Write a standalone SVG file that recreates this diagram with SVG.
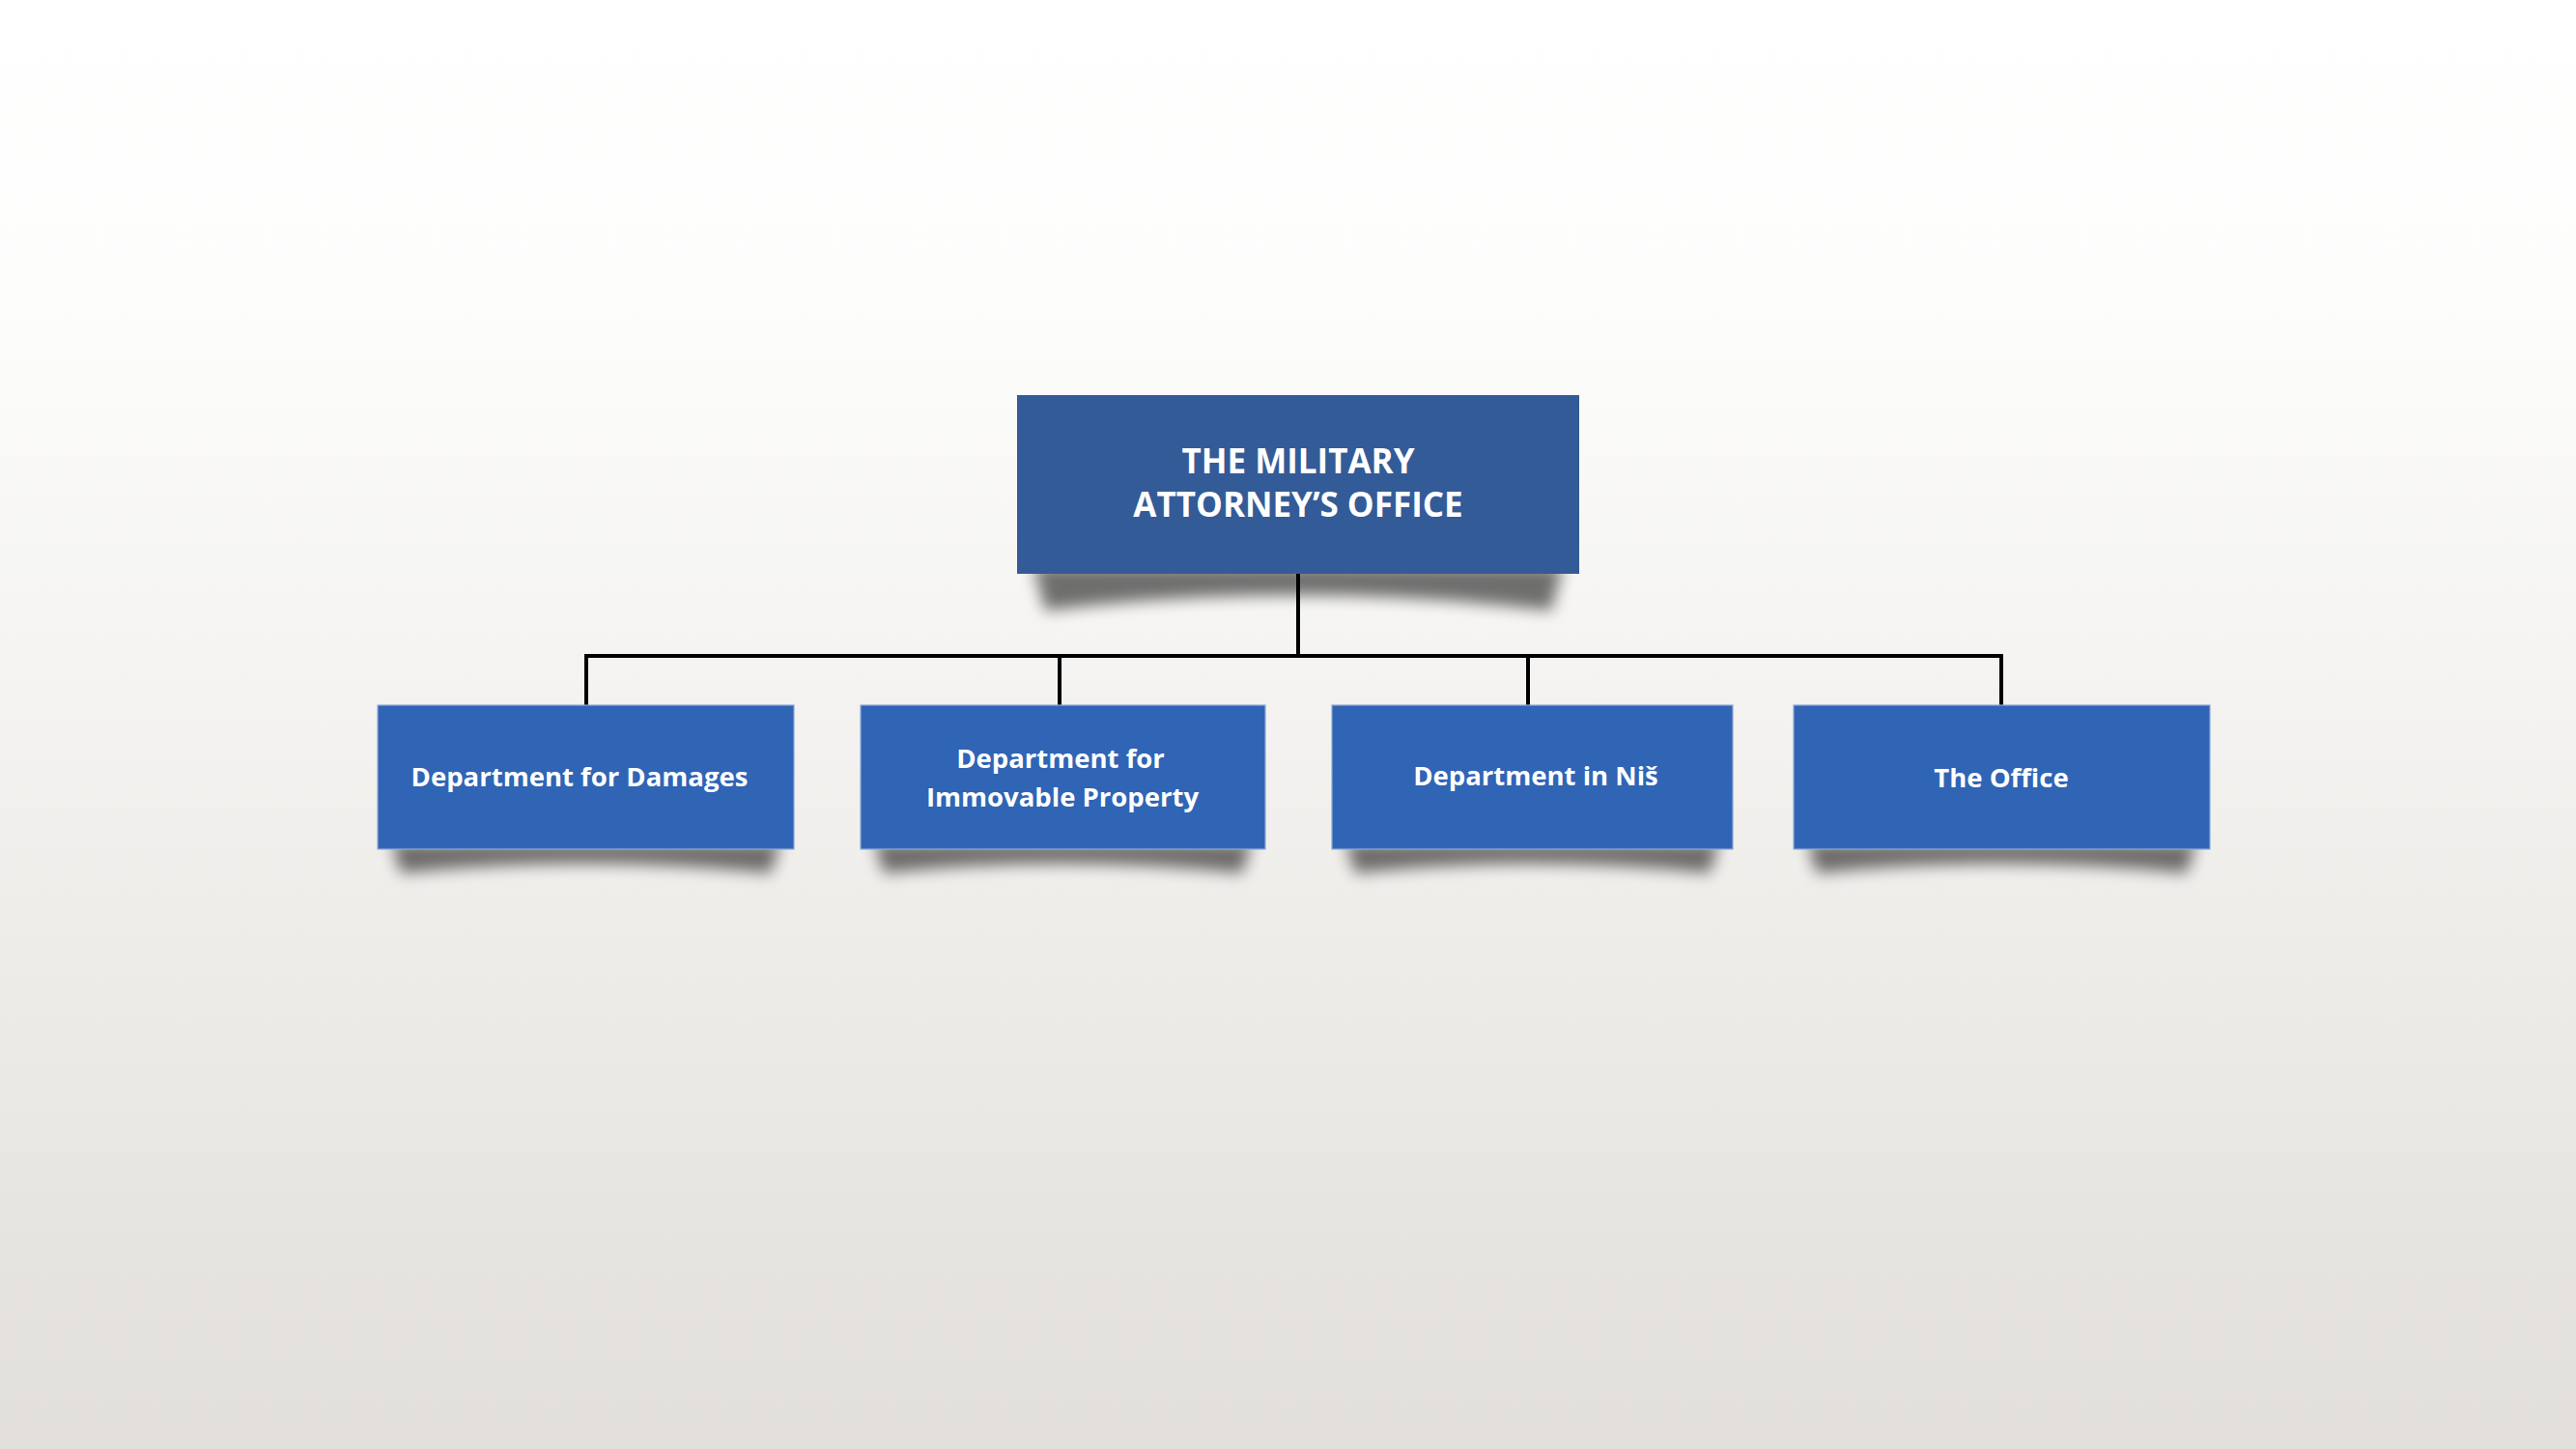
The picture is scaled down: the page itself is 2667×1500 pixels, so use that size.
<svg xmlns="http://www.w3.org/2000/svg" width="2667" height="1500" viewBox="0 0 2667 1500">
<defs>
<linearGradient id="bg" x1="0" y1="0" x2="0" y2="1">
<stop offset="0" stop-color="#FFFFFF"/>
<stop offset="0.2" stop-color="#FDFDFC"/>
<stop offset="0.45" stop-color="#F5F4F2"/>
<stop offset="1" stop-color="#E2DFDA"/>
</linearGradient>
<filter id="blur" x="-10%" y="-80%" width="120%" height="260%">
<feGaussianBlur stdDeviation="8"/>
</filter>
</defs>
<style>
.top{fill:#335B97;}
.child{fill:#3064B5;stroke:#8DA8D6;stroke-width:1.2;}
.sh{fill:#000;opacity:0.55;filter:url(#blur);}
.t1{font-family:"Open Sans","Liberation Sans",sans-serif;font-weight:700;font-size:35px;fill:#FFFFFF;text-anchor:middle;}
.t2{font-family:"Open Sans","Liberation Sans",sans-serif;font-weight:700;font-size:27.5px;fill:#FFFFFF;text-anchor:middle;}
.conn{fill:none;stroke:#000;stroke-width:4;}
</style>
<rect x="0" y="0" width="2667" height="1500" fill="url(#bg)"/>
<g id="connectors">
<path class="conn" d="M1344,594 V679"/>
<path class="conn" d="M607,730 V679 H2072 V730"/>
<path class="conn" d="M1097,679 V730"/>
<path class="conn" d="M1582,679 V730"/>
</g>
<g id="node-top">
<path class="sh" d="M1070,586 H1618 L1606,632 Q1344,600 1082,632 Z"/>
<rect class="top" x="1053" y="409" width="582" height="185"/>
<text class="t1" x="1344" y="490">THE MILITARY</text>
<text class="t1" x="1344" y="535">ATTORNEY’S OFFICE</text>
</g>
<g id="node-damages">
<path class="sh" d="M405,872 H808 L798,904 Q606,884 415,904 Z"/>
<rect class="child" x="391" y="730" width="431" height="149"/>
<text class="t2" x="600" y="814">Department for Damages</text>
</g>
<g id="node-immovable">
<path class="sh" d="M905,872 H1296 L1286,904 Q1100,884 915,904 Z"/>
<rect class="child" x="891" y="730" width="419" height="149"/>
<text class="t2" x="1098" y="795">Department for</text>
<text class="t2" x="1100" y="835">Immovable Property</text>
</g>
<g id="node-nis">
<path class="sh" d="M1393,872 H1780 L1770,904 Q1586,884 1403,904 Z"/>
<rect class="child" x="1379" y="730" width="415" height="149"/>
<text class="t2" x="1590" y="813">Department in Niš</text>
</g>
<g id="node-office">
<path class="sh" d="M1871,872 H2274 L2264,904 Q2072,884 1881,904 Z"/>
<rect class="child" x="1857" y="730" width="431" height="149"/>
<text class="t2" x="2072" y="815">The Office</text>
</g>
</svg>
